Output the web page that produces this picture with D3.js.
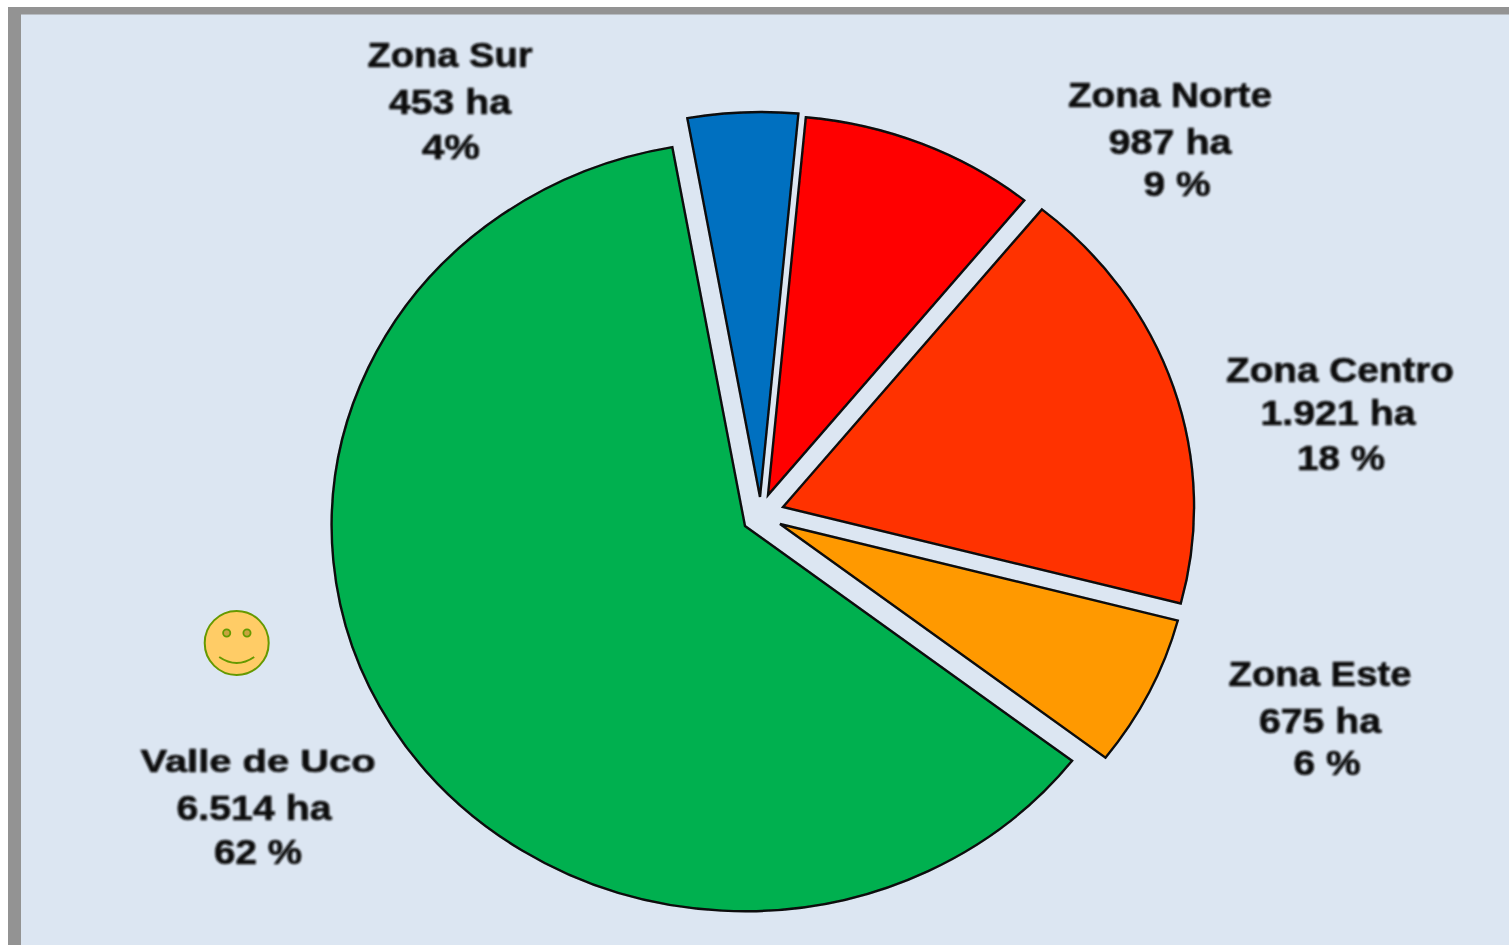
<!DOCTYPE html>
<html><head><meta charset="utf-8">
<script src="https://cdn.jsdelivr.net/npm/d3@7"></script>
<style>html,body{margin:0;padding:0;background:#fff;overflow:hidden}svg{display:block}</style>
</head><body><div id="c"></div>
<script>
// Data
const zones = ["Valle de Uco","Zona Sur","Zona Norte","Zona Centro","Zona Este"];
const hectares = [6514,453,987,1921,675];
const hectareLabels = ["6.514 ha","453 ha","987 ha","1.921 ha","675 ha"];
const percentLabels = ["62 %","4%","9 %","18 %","6 %"];
const sliceColors = ["#00b050","#0070c0","#ff0000","#ff3300","#ff9900"];

// Layout (separate from data)
const W=1509,H=945;
const rx=413, ry=385, firstAngleDeg=127.6;
const apexX=[745,760,768,783,780];
const apexY=[526,497,495,507,524];
const radiusFactor=[1,1,0.985,0.995,0.995];
const labelLayout=[
 [[258,772,235,31],[254,820,155,35],[258,864,88,35]],
 [[450,67,165,35],[450,114,122,35],[451,159,58,35]],
 [[1170,107,204,35],[1170,154,123,35],[1177,196,67,35]],
 [[1340,382,228,35],[1338,425,155,35],[1341,470,88,35]],
 [[1320,686,183,35],[1320,733,122,35],[1327,775,67,35]]
];

const svg=d3.select("#c").append("svg").attr("width",W).attr("height",H).attr("viewBox",[0,0,W,H]);
const defs=svg.append("defs");
defs.append("filter").attr("id","soft").attr("x","-5%").attr("y","-20%").attr("width","110%").attr("height","140%")
  .append("feGaussianBlur").attr("stdDeviation",1.0);
defs.append("filter").attr("id","softer").attr("x","-5%").attr("y","-5%").attr("width","110%").attr("height","110%")
  .append("feGaussianBlur").attr("stdDeviation",0.7);

// frame and panel
svg.append("rect").attr("x",8).attr("y",7).attr("width",W-8).attr("height",H-7).attr("fill","#939393");
svg.append("rect").attr("x",21).attr("y",14.5).attr("width",W-21).attr("height",H-14.5).attr("fill","#dce6f2");

// pie: drawn in a unit circle, stretched to the ellipse of the original
const a0=firstAngleDeg*Math.PI/180;
const pie=d3.pie().sort(null).startAngle(a0).endAngle(a0+2*Math.PI).value(d=>d);
const arc=d3.arc().innerRadius(0).outerRadius(1);
const arcs=pie(hectares);
const gPie=svg.append("g").attr("filter","url(#softer)");
gPie.selectAll("path").data(arcs).join("path")
  .attr("transform",(d,i)=>`translate(${apexX[i]},${apexY[i]}) scale(${rx*radiusFactor[i]},${ry*radiusFactor[i]})`)
  .attr("d",arc)
  .attr("fill",(d,i)=>sliceColors[i])
  .attr("stroke","#0a0a0a").attr("stroke-width",2.4)
  .attr("vector-effect","non-scaling-stroke")
  .attr("stroke-linejoin","miter");

// labels
const gText=svg.append("g").attr("filter","url(#soft)")
  .attr("font-family","'Liberation Sans',Arial,sans-serif").attr("font-weight","bold")
  .attr("fill","#0a0a0a").attr("stroke","#0a0a0a").attr("stroke-width",0.6);
zones.forEach((z,i)=>{
  [z,hectareLabels[i],percentLabels[i]].forEach((s,j)=>{
    const [x,y,w,fs]=labelLayout[i][j];
    gText.append("text").attr("x",x).attr("y",y).attr("text-anchor","middle")
      .attr("font-size",fs).attr("textLength",w).attr("lengthAdjust","spacingAndGlyphs").text(s);
  });
});

// smiley
const sm=svg.append("g").attr("transform","translate(236.7,643)");
sm.append("circle").attr("r",32).attr("fill","#ffcc66").attr("stroke","#669900").attr("stroke-width",2);
[-10,10.3].forEach(dx=>sm.append("circle").attr("cx",dx).attr("cy",-10).attr("r",3.6)
  .attr("fill","#c9a33f").attr("stroke","#669900").attr("stroke-width",1.8));
const mouth=d3.path();mouth.moveTo(-17.5,14);mouth.quadraticCurveTo(0,26,17.5,14);
sm.append("path").attr("d",mouth.toString()).attr("fill","none").attr("stroke","#669900").attr("stroke-width",2);
</script></body></html>
